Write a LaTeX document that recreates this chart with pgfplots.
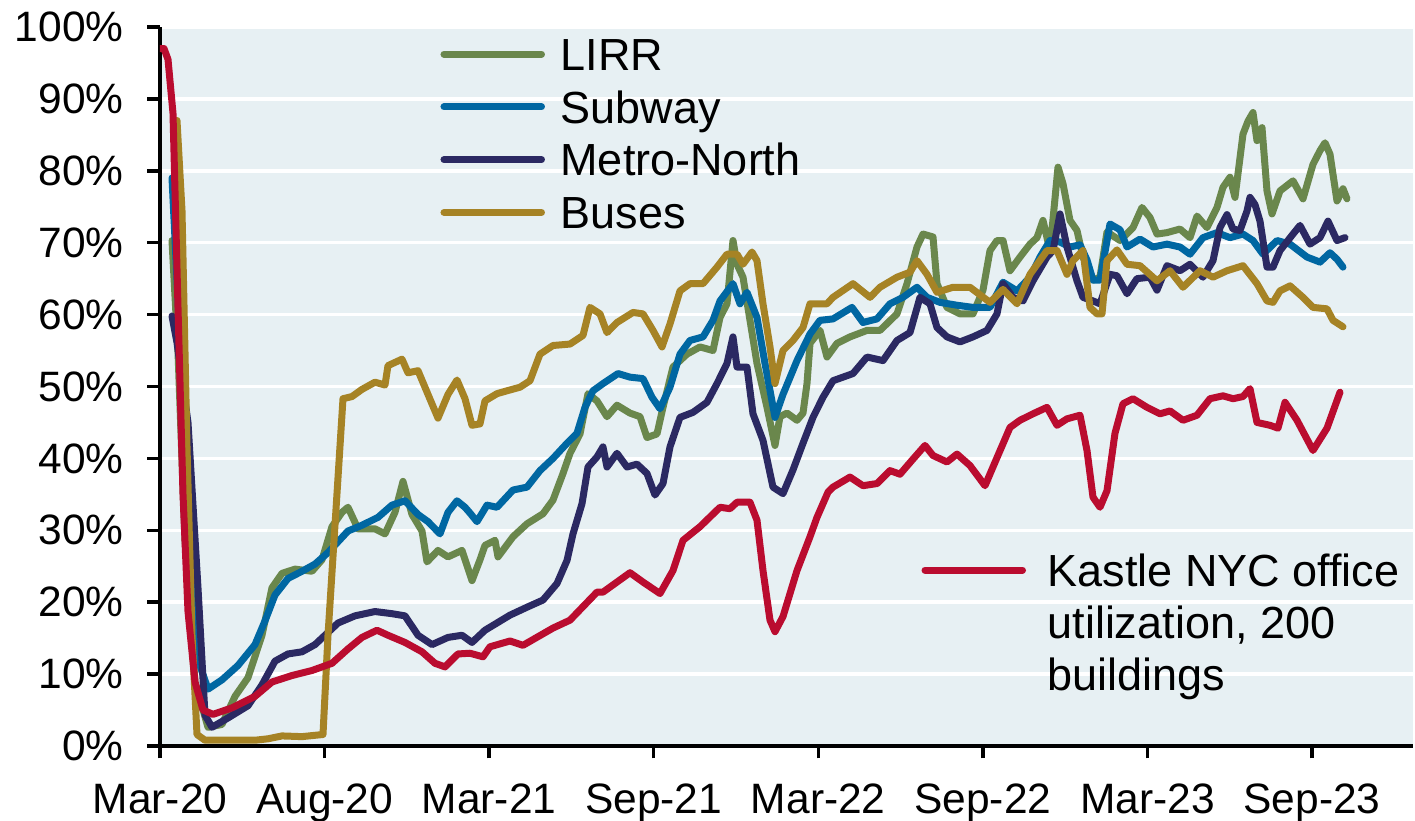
\documentclass[border=0pt]{standalone}
\usepackage{fontspec}
\setmainfont{Liberation Sans}
\usepackage{pgfplots}
\pgfplotsset{compat=1.18}
\definecolor{lirr}{HTML}{6A874C}
\definecolor{subway}{HTML}{0067A2}
\definecolor{metronorth}{HTML}{2B2962}
\definecolor{buses}{HTML}{A68325}
\definecolor{kastle}{HTML}{BA0C2F}
\definecolor{bgc}{HTML}{E7F0F3}

% x values are positions on the date axis (ticks every half year)
\pgfplotsset{
  base/.style={
    scale only axis, width=501.2pt, height=287.6pt,
    xmin=160, xmax=1413, ymin=0, ymax=100,
    every axis plot/.append style={line width=2.8pt, line join=round, line cap=round},
    legend cell align=left,
    legend image code/.code={\draw[##1] (0pt,0pt) -- (39pt,0pt);},
  },
}

\begin{document}
\begin{tikzpicture}
\useasboundingbox (-64pt,-30pt) rectangle (502pt,298.4pt);
\begin{axis}[
  base,
  axis x line*=bottom, axis y line*=left,
  axis line style={line width=1.6pt, black},
  axis background/.style={fill=bgc},
  ymajorgrids, grid style={white, line width=1.4pt},
  xtick={160,324.6,489.1,653.7,818.3,982.9,1147.4,1312},
  xticklabels={Mar-20,Aug-20,Mar-21,Sep-21,Mar-22,Sep-22,Mar-23,Sep-23},
  ytick={0,10,20,30,40,50,60,70,80,90,100},
  yticklabels={0\%,10\%,20\%,30\%,40\%,50\%,60\%,70\%,80\%,90\%,100\%},
  tick align=outside, major tick length=5pt,
  tick style={black, line width=1.4pt},
  ticklabel style={font=\fontsize{17}{20}\selectfont},
  yticklabel style={xshift=-6pt},
  xticklabel style={yshift=-6.8pt},
  legend style={at={(axis cs:440,98.55)}, anchor=north west, draw=none, fill=none,
    inner sep=0pt, row sep=8.1pt, column sep=6.2pt,
    font=\fontsize{18}{21.6}\selectfont,
    nodes={inner sep=0pt, text height=13pt, text depth=0pt}},
]
\addplot[lirr] coordinates {
(172,70.3) (178,54.8) (185,28.6) (195,8.9) (208,2.6) (222,3.0) (235,6.9) (248,9.5)
(262,15.4) (272,22) (282,24) (295,24.6) (312,24.3) (322,25.9) (332,30.5) (342,32.5)
(348,33.2) (358,30.2) (375,30.2) (385,29.5) (395,32.5) (403,36.8) (412,32.2) (422,29.9)
(427,25.6) (438,27.2) (448,26.3) (462,27.2) (472,23) (480,25.9) (485,27.9) (495,28.6)
(498,26.3) (513,29.1) (527,30.9) (543,32.3) (553,34.2) (563,37.9) (570,40.7) (580,43.4)
(588,49) (597,48) (607,45.8) (617,47.4) (630,46.3) (640,45.8) (647,42.9) (657,43.4)
(663,47.1) (673,52.7) (687,54.5) (700,55.5) (713,55.0) (720,59.6) (727,61.5) (733,70.3)
(737,67) (743,65.2) (750,59.2) (757,53.2) (767,47.1) (775,41.8) (780,45.8) (787,46.3)
(797,45.3) (803,46.3) (807,50.4) (810,56.0) (820,57.8) (827,54.1) (837,56.0) (850,56.9)
(867,57.8) (880,57.8) (897,60.1) (907,64.3) (917,69.4) (923,71.2) (933,70.8) (937,64.3)
(947,61.0) (960,60.1) (973,60.1) (983,63.4) (990,68.9) (997,70.3) (1003,70.3) (1010,66.1)
(1020,68.0) (1030,69.8) (1037,70.7) (1043,73.1) (1050,68.9) (1058,80.5) (1063,78.2) (1070,73.1)
(1077,71.7) (1083,68.0) (1093,64.8) (1100,65.2) (1107,71.5) (1120,70.3) (1133,72.1) (1142,74.9)
(1150,73.5) (1157,71.2) (1167,71.4) (1180,71.9) (1190,70.7) (1197,73.7) (1207,72.1) (1217,74.9)
(1223,77.7) (1230,79.1) (1235,76.3) (1243,85.1) (1248,86.9) (1253,88.1) (1257,84.2) (1262,86.0)
(1267,77.2) (1272,74.0) (1280,77.2) (1293,78.6) (1303,76.1) (1313,80.9) (1320,82.8) (1325,83.9)
(1330,82.3) (1337,75.8) (1343,77.5) (1347,76.1)
};
\addlegendentry{LIRR}
\addplot[subway] coordinates {
(172,79) (178,62) (185,41.7) (192,25) (198,12) (208,7.9) (222,9.2) (238,11.2)
(255,14.1) (265,17.4) (275,21) (288,23.3) (302,24.3) (315,25.3) (328,26.9) (348,29.9)
(362,30.7) (378,31.8) (392,33.5) (405,34.1) (418,32.2) (428,31.2) (440,29.5) (448,32.5)
(457,34.1) (465,33.2) (470,32.4) (477,31.2) (487,33.5) (497,33.2) (513,35.6) (527,36.0)
(540,38.3) (553,40.0) (567,42.1) (577,43.5) (585,47.1) (593,49.4) (603,50.4) (618,51.8)
(630,51.3) (643,51.1) (652,48.5) (660,46.9) (670,49.9) (680,54.5) (690,56.4) (703,56.9)
(713,59.2) (720,61.9) (733,64.3) (740,61.5) (747,63.1) (757,59.6) (765,53.2) (775,45.7)
(783,48.9) (797,53.6) (810,57.3) (820,59.2) (833,59.4) (852,61.0) (863,58.9) (877,59.4)
(890,61.5) (903,62.4) (917,63.8) (927,62.4) (940,61.7) (957,61.3) (973,61.0) (990,61.0)
(1003,64.5) (1017,63.3) (1030,65.2) (1040,68.0) (1050,70.3) (1060,70.1) (1070,69.4) (1080,69.7)
(1087,67.6) (1093,64.8) (1100,64.8) (1110,72.6) (1120,71.8) (1127,69.4) (1140,70.5) (1153,69.4)
(1167,69.8) (1180,69.4) (1190,68.4) (1203,70.7) (1217,71.4) (1230,70.7) (1243,71.2) (1253,70.3)
(1263,68.4) (1277,70.3) (1290,69.8) (1307,68.0) (1320,67.3) (1330,68.6) (1337,67.7) (1343,66.6)
};
\addlegendentry{Subway}
\addplot[metronorth] coordinates {
(172,59.8) (177,56.1) (188,45) (198,22) (205,4.3) (212,2.6) (228,3.9) (248,5.6)
(262,8.5) (275,11.8) (288,12.8) (302,13.1) (315,14.1) (325,15.4) (338,17.1) (355,18.1)
(375,18.7) (392,18.4) (405,18.1) (418,15.4) (432,14.1) (448,15.1) (462,15.4) (472,14.4)
(485,16.1) (510,18.2) (527,19.3) (543,20.3) (557,22.6) (567,25.8) (573,29.5) (582,33.7)
(588,38.8) (597,40.2) (603,41.6) (607,38.8) (617,40.7) (627,38.8) (637,39.2) (647,37.9)
(655,34.9) (663,36.5) (670,41.6) (680,45.7) (693,46.4) (707,47.8) (717,50.4) (727,53.2)
(733,56.9) (737,52.7) (747,52.7) (753,46.2) (763,42.5) (773,36.0) (783,35.1) (793,38.4)
(803,42.1) (813,45.7) (823,48.5) (833,50.8) (853,51.8) (867,54.1) (883,53.6) (897,56.4)
(910,57.5) (920,62.4) (930,61.5) (937,58.2) (947,56.9) (960,56.2) (973,56.9) (987,57.8)
(997,60.1) (1003,64.3) (1013,62.4) (1023,61.9) (1033,64.7) (1047,68.0) (1053,68.9) (1060,74.0)
(1067,69.4) (1077,64.7) (1083,62.4) (1093,61.9) (1100,61.5) (1110,65.6) (1117,65.4) (1127,62.9)
(1137,65.0) (1150,65.2) (1157,63.4) (1167,66.8) (1180,66.1) (1190,67.0) (1203,65.2) (1213,67.5)
(1220,72.1) (1227,73.9) (1233,71.9) (1240,71.7) (1247,74.4) (1250,76.3) (1255,75.3) (1260,73.0)
(1267,66.6) (1273,66.6) (1280,68.9) (1293,71.2) (1300,72.4) (1310,69.8) (1320,70.7) (1328,73.0)
(1337,70.3) (1345,70.7)
};
\addlegendentry{Metro-North}
\addplot[buses] coordinates {
(177,87) (182,74.5) (187,41.7) (192,15.4) (197,1.6) (205,0.8) (238,0.8) (255,0.8)
(268,1.0) (282,1.4) (302,1.3) (323,1.6) (328,15.4) (337,35.1) (343,48.3) (352,48.6)
(362,49.6) (375,50.6) (385,50.2) (388,52.9) (402,53.8) (408,51.9) (418,52.2) (428,48.9)
(438,45.6) (448,48.9) (457,50.9) (465,48.3) (472,44.6) (480,44.8) (485,48.0) (497,49.0)
(507,49.4) (520,49.9) (530,50.8) (540,54.5) (553,55.7) (570,55.9) (583,57.1) (590,61.0)
(600,60.1) (607,57.5) (617,58.9) (633,60.3) (643,60.1) (653,57.8) (662,55.5) (670,58.7)
(680,63.3) (690,64.3) (703,64.3) (717,66.6) (727,68.4) (737,68.4) (743,67.0) (752,68.7)
(757,67.5) (763,61.5) (770,55.5) (775,50.4) (783,55.0) (793,56.4) (803,58.2) (810,61.5)
(827,61.5) (833,62.4) (853,64.3) (870,62.4) (880,63.8) (897,65.2) (910,65.9) (917,67.5)
(927,65.6) (937,63.1) (953,63.8) (970,63.8) (990,61.7) (1003,63.5) (1017,61.5) (1030,65.6)
(1047,68.9) (1057,68.9) (1067,65.6) (1073,67.5) (1083,68.9) (1090,61.0) (1097,60.1) (1102,60.1)
(1107,67.5) (1117,69.0) (1127,67.0) (1140,66.8) (1157,64.7) (1170,66.1) (1183,63.8) (1200,66.1)
(1213,65.2) (1227,66.1) (1243,66.8) (1257,64.3) (1267,61.9) (1273,61.7) (1280,63.3) (1290,64.0)
(1303,62.4) (1313,61.0) (1327,60.8) (1333,59.2) (1343,58.3)
};
\addlegendentry{Buses}
\end{axis}
\begin{axis}[
  base, hide axis,
  legend style={at={(axis cs:921,26.8)}, anchor=north west, draw=none, fill=none,
    inner sep=0pt, column sep=8.6pt,
    font=\fontsize{18}{20.8}\selectfont,
    nodes={inner sep=0pt, text height=13pt, text depth=0pt}},
]
\addplot[kastle] coordinates {
(160,97.0) (164,97.0) (168,95.5) (173,88) (178,61) (183,35) (188,18.7) (195,8.9)
(203,5.0) (213,4.4) (232,5.3) (255,6.9) (272,8.9) (292,9.8) (312,10.5) (332,11.5)
(348,13.5) (362,15.1) (377,16.1) (388,15.4) (405,14.4) (422,13.1) (435,11.5) (445,11.0)
(458,12.8) (470,12.9) (483,12.4) (490,13.8) (510,14.6) (523,14.0) (553,16.4) (570,17.5)
(597,21.4) (603,21.4) (630,24.1) (643,22.8) (660,21.2) (673,24.4) (683,28.6) (700,30.5)
(720,33.2) (730,33.0) (737,33.9) (750,33.9) (757,31.4) (763,24.4) (770,17.5) (775,15.9)
(783,18) (797,24.4) (810,29.1) (817,31.8) (828,35.3) (833,36) (850,37.4) (863,36.2)
(877,36.5) (890,38.3) (900,37.8) (913,39.9) (925,41.8) (933,40.4) (947,39.5) (957,40.6)
(970,39.0) (985,36.2) (997,40.1) (1010,44.3) (1020,45.3) (1033,46.2) (1047,47.1) (1057,44.6)
(1067,45.5) (1080,46.0) (1087,41.1) (1093,34.6) (1100,33.2) (1107,35.5) (1115,43.5) (1123,47.6)
(1133,48.3) (1147,47.1) (1160,46.2) (1170,46.6) (1183,45.3) (1197,46.0) (1210,48.3) (1223,48.7)
(1233,48.3) (1243,48.6) (1250,49.7) (1257,45.0) (1270,44.6) (1278,44.2) (1285,47.8) (1297,45.3)
(1313,41.1) (1327,44.2) (1340,49.2)
};
\addlegendentry{\smash{\vtop{\hbox{Kastle NYC office}\hbox{utilization, 200}\hbox{buildings}}}}
\end{axis}
\end{tikzpicture}
\end{document}
